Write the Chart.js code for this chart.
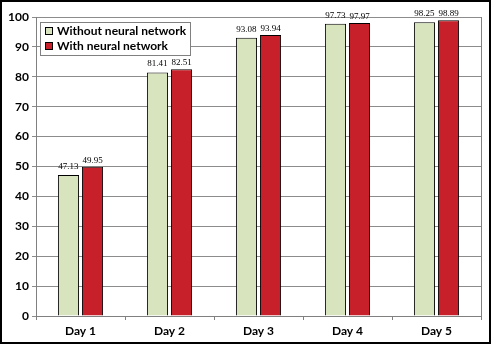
<!DOCTYPE html>
<html>
<head>
<meta charset="utf-8">
<script src="https://cdn.jsdelivr.net/npm/chart.js@4/dist/chart.umd.min.js"></script>
<style>
  html, body { margin: 0; padding: 0; background: #fff; }
  #wrap { width: 487px; height: 340px; border: 2px solid #000; position: relative; }
  canvas { display: block; }
</style>
</head>
<body>
<div id="wrap"><canvas id="c" width="487" height="340"></canvas></div>
<script>
const categories = ['Day 1', 'Day 2', 'Day 3', 'Day 4', 'Day 5'];
const withoutNN = [47.13, 81.41, 93.08, 97.73, 98.25];
const withNN = [49.95, 82.51, 93.94, 97.97, 98.89];
const yTicks = [0, 10, 20, 30, 40, 50, 60, 70, 80, 90, 100];

const GREEN = '#D7E4BD';
const RED = '#C8202A';

// Value labels above each bar
const valueLabels = {
  id: 'valueLabels',
  afterDatasetsDraw(chart) {
    const ctx = chart.ctx;
    ctx.save();
    ctx.font = '9px "Liberation Serif", serif';
    ctx.fillStyle = '#000';
    ctx.textAlign = 'center';
    ctx.textBaseline = 'bottom';
    chart.data.datasets.forEach((ds, i) => {
      const meta = chart.getDatasetMeta(i);
      meta.data.forEach((bar, j) => {
        const yOff = i === 0 ? 4 : 2;
        ctx.fillText(ds.data[j].toFixed(2), bar.x, bar.y - yOff);
      });
    });
    ctx.restore();
  }
};

// Legend box drawn inside the plot area, top-left
const insideLegend = {
  id: 'insideLegend',
  afterDraw(chart) {
    const ctx = chart.ctx;
    const a = chart.chartArea;
    const x = a.left + 4, y = a.top + 5, w = 150, h = 33;
    ctx.save();
    ctx.fillStyle = '#fff';
    ctx.fillRect(x, y, w, h);
    ctx.strokeStyle = '#808080';
    ctx.lineWidth = 1;
    ctx.strokeRect(x + 0.5, y + 0.5, w, h);
    ctx.font = 'bold 12px Lato, "Liberation Sans", sans-serif';
    ctx.textBaseline = 'middle';
    ctx.textAlign = 'left';
    chart.data.datasets.forEach((ds, i) => {
      const cy = y + 9 + i * 15;
      ctx.fillStyle = ds.backgroundColor;
      ctx.fillRect(x + 5, cy - 4, 8, 8);
      ctx.strokeStyle = '#000';
      ctx.strokeRect(x + 5.5, cy - 3.5, 7, 7);
      ctx.fillStyle = '#000';
      ctx.fillText(ds.label, x + 17, cy);
    });
    ctx.restore();
  }
};

new Chart(document.getElementById('c'), {
  type: 'bar',
  data: {
    labels: categories,
    datasets: [
      { label: 'Without neural network', data: withoutNN, backgroundColor: GREEN, borderColor: '#000', borderWidth: 1 },
      { label: 'With neural network', data: withNN, backgroundColor: RED, borderColor: '#000', borderWidth: 1 }
    ]
  },
  options: {
    responsive: false,
    animation: false,
    devicePixelRatio: 1,
    layout: { padding: { top: 15, right: 8, left: 0, bottom: 0 } },
    plugins: { legend: { display: false }, tooltip: { enabled: false } },
    datasets: { bar: { categoryPercentage: 0.54, barPercentage: 0.88 } },
    scales: {
      x: {
        afterFit(s) { s.height = 26; },
        grid: { display: true, drawOnChartArea: false, color: '#808080', tickLength: 4, offset: true },
        border: { color: '#808080' },
        ticks: { color: '#000', font: { family: 'Lato, "Liberation Sans", sans-serif', size: 12, weight: 'bold' }, padding: 4 }
      },
      y: {
        min: 0, max: 100,
        afterFit(s) { s.width = 34; },
        afterBuildTicks(s) { s.ticks = yTicks.map(v => ({ value: v })); },
        grid: { color: '#8c8c8c', tickLength: 4 },
        border: { color: '#808080' },
        ticks: { color: '#000', font: { family: 'Lato, "Liberation Sans", sans-serif', size: 12, weight: 'bold' }, padding: 3 }
      }
    }
  },
  plugins: [valueLabels, insideLegend, {
    id: 'frame',
    afterDraw(chart) {
      const a = chart.chartArea, ctx = chart.ctx;
      ctx.save();
      ctx.strokeStyle = '#808080';
      ctx.lineWidth = 1;
      ctx.beginPath();
      ctx.moveTo(Math.round(a.right) + 0.5, a.top);
      ctx.lineTo(Math.round(a.right) + 0.5, a.bottom);
      ctx.stroke();
      ctx.restore();
    }
  }]
});
</script>
</body>
</html>
